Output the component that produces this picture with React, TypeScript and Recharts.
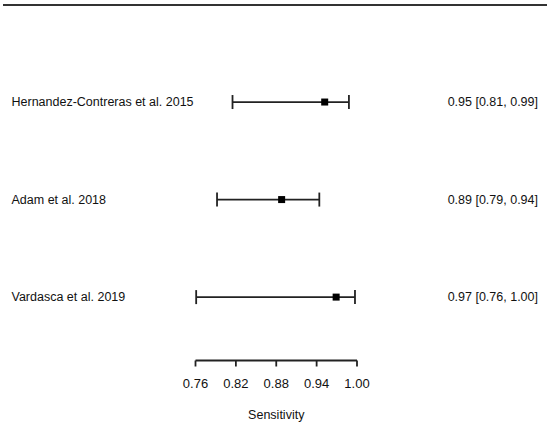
import React from "react";
import {
  ScatterChart,
  Scatter,
  XAxis,
  YAxis,
  ErrorBar,
  Label,
} from "recharts";

const studies = [
  "Hernandez-Contreras et al. 2015",
  "Adam et al. 2018",
  "Vardasca et al. 2019",
];
const estimates = [0.952, 0.888, 0.969];
const lower = [0.815, 0.792, 0.761];
const upper = [0.988, 0.944, 0.997];
const summaries = ["0.95 [0.81, 0.99]", "0.89 [0.79, 0.94]", "0.97 [0.76, 1.00]"];
const rowPositions = [3, 2, 1];
const xTicks = [0.76, 0.82, 0.88, 0.94, 1.0];

const FONT = "'Liberation Sans', Arial, Helvetica, sans-serif";
const INK = "#111";

const rows = studies.map((study, i) => ({
  study,
  summary: summaries[i],
  row: rowPositions[i],
  est: estimates[i],
  err: [estimates[i] - lower[i], upper[i] - estimates[i]],
}));

function rowLabel(value: number, key: "study" | "summary"): string {
  const r = rows.find((d) => d.row === value);
  return r ? r[key] : "";
}

const StudyTick = ({ y, payload }: any) => (
  <text x={11.5} y={y} dy="0.35em" textAnchor="start" fontSize={12.5} fill={INK} fontFamily={FONT}>
    {rowLabel(payload.value, "study")}
  </text>
);

const SummaryTick = ({ y, payload }: any) => (
  <text x={538} y={y} dy="0.35em" textAnchor="end" fontSize={12.5} fill={INK} fontFamily={FONT}>
    {rowLabel(payload.value, "summary")}
  </text>
);

const SquareMarker = ({ cx, cy }: any) => (
  <rect x={cx - 3.5} y={cy - 3.5} width={7} height={7} fill="#000" />
);

export default function App() {
  return (
    <div style={{ position: "relative", width: 550, height: 424, background: "#fff" }}>
      <style>{`body { margin: 0; }`}</style>
      <div
        style={{
          position: "absolute",
          top: 3.5,
          left: 3,
          width: 544,
          height: 2,
          background: "#333",
        }}
      />
      <ScatterChart
        width={550}
        height={424}
        margin={{ top: 4.5, right: 0, bottom: 3.5, left: 0 }}
      >
        <XAxis
          type="number"
          dataKey="est"
          domain={[0.76, 1.0]}
          ticks={xTicks}
          allowDataOverflow
          tickFormatter={(v: number) => v.toFixed(2)}
          tick={{ fontSize: 13, fill: INK, fontFamily: FONT }}
          tickMargin={12}
          tickSize={6}
          stroke="#222"
          strokeWidth={1.8}
          height={60}
        >
          <Label
            value="Sensitivity"
            position="insideBottom"
            offset={2}
            fontSize={12.5}
            fill={INK}
            fontFamily={FONT}
          />
        </XAxis>
        <YAxis
          type="number"
          dataKey="row"
          domain={[0.35, 4]}
          ticks={rowPositions}
          allowDataOverflow
          width={195.5}
          axisLine={false}
          tickLine={false}
          tick={<StudyTick />}
        />
        <YAxis
          yAxisId="right"
          orientation="right"
          type="number"
          domain={[0.35, 4]}
          ticks={rowPositions}
          allowDataOverflow
          width={193}
          axisLine={false}
          tickLine={false}
          tick={<SummaryTick />}
        />
        <Scatter data={rows} shape={<SquareMarker />} isAnimationActive={false}>
          <ErrorBar
            dataKey="err"
            direction="x"
            width={7}
            stroke="#222"
            strokeWidth={1.8}
            isAnimationActive={false}
          />
        </Scatter>
      </ScatterChart>
    </div>
  );
}
